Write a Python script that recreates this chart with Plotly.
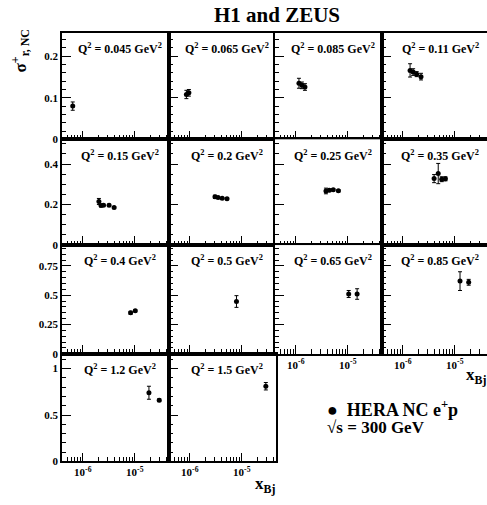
import plotly.graph_objects as go

W, H = 487, 505

q2_labels = ["0.045", "0.065", "0.085", "0.11",
             "0.15", "0.2", "0.25", "0.35",
             "0.4", "0.5", "0.65", "0.85",
             "1.2", "1.5"]

x_vals = [
    [6.4e-7],
    [8.6e-7, 9.6e-7],
    [1.15e-6, 1.31e-6, 1.5e-6],
    [1.38e-6, 1.58e-6, 1.85e-6, 2.24e-6],
    [2.04e-6, 2.24e-6, 2.5e-6, 3.2e-6, 4.0e-6],
    [3.05e-6, 3.5e-6, 4.2e-6, 5.2e-6],
    [3.8e-6, 4.4e-6, 5.25e-6, 6.6e-6],
    [4.0e-6, 4.8e-6, 5.6e-6, 6.6e-6],
    [8.3e-6, 1.02e-5],
    [7.9e-6],
    [1.04e-5, 1.51e-5],
    [1.26e-5, 1.85e-5],
    [1.87e-5, 2.95e-5],
    [2.9e-5],
]
sigma_vals = [
    [0.080],
    [0.108, 0.112],
    [0.135, 0.130, 0.126],
    [0.166, 0.162, 0.157, 0.151],
    [0.215, 0.195, 0.197, 0.197, 0.185],
    [0.238, 0.235, 0.231, 0.229],
    [0.267, 0.270, 0.273, 0.268],
    [0.328, 0.353, 0.325, 0.327],
    [0.350, 0.367],
    [0.446],
    [0.51, 0.51],
    [0.62, 0.61],
    [0.74, 0.66],
    [0.81],
]
sigma_err = [
    [0.010],
    [0.010, 0.008],
    [0.012, 0.008, 0.008],
    [0.016, 0.008, 0.006, 0.008],
    [0.015, 0.006, 0.005, 0.005, 0.005],
    [0.008, 0.005, 0.004, 0.004],
    [0.014, 0.006, 0.005, 0.005],
    [0.02, 0.05, 0.012, 0.01],
    [0.012, 0.008],
    [0.05],
    [0.03, 0.045],
    [0.08, 0.025],
    [0.07, 0.015],
    [0.04],
]

row_ymax = [0.257, 0.522, 0.928, 1.16]
row_dtick = [0.1, 0.2, 0.25, 0.5]
row_minor = [0.02, 0.05, 0.05, 0.1]
x_ticks = [1e-6, 1e-5]
x_ticktext = ["10<sup>-6</sup>", "10<sup>-5</sup>"]

# layout geometry (pixels)
col_left = [62, 169, 275, 382]
panel_w = 107
row_top = [33, 141, 248, 358]
row_bot = [141, 248, 358, 467]
decade_px = 52.0
xmin_log = -6.4

FONT = "Liberation Serif"
fig = go.Figure()
layout = {}
annotations = []

minor_vals = [m * 10 ** e for e in (-7, -6, -5) for m in range(2, 10)]

for i in range(14):
    r, c = divmod(i, 4)
    n = i + 1
    xa = "xaxis" if n == 1 else f"xaxis{n}"
    ya = "yaxis" if n == 1 else f"yaxis{n}"
    xref = "x" if n == 1 else f"x{n}"
    yref = "y" if n == 1 else f"y{n}"
    L = col_left[c]
    R = min(L + panel_w, W)
    xr = [xmin_log, xmin_log + (R - L) / decade_px]
    show_xlab = (r == 3) or (r == 2 and c >= 2)
    layout[xa] = dict(
        type="log", range=xr, domain=[L / W, R / W], anchor=yref,
        tickmode="array", tickvals=x_ticks, ticktext=x_ticktext,
        showticklabels=show_xlab, ticks="inside", ticklen=9, tickwidth=1,
        tickcolor="black",
        minor=dict(tickmode="array", tickvals=minor_vals, ticks="inside",
                   ticklen=4.5, tickwidth=1, tickcolor="black"),
        showgrid=False, zeroline=False, showline=True, mirror=True,
        linecolor="black", linewidth=1.5,
        tickfont=dict(family=FONT, size=11, color="black", weight="bold"),
    )
    layout[ya] = dict(
        range=[0, row_ymax[r]], domain=[1 - row_bot[r] / H, 1 - row_top[r] / H],
        anchor=xref, tickmode="linear", tick0=0, dtick=row_dtick[r],
        showticklabels=(c == 0), ticks="inside", ticklen=9, tickwidth=1,
        tickcolor="black",
        minor=dict(dtick=row_minor[r], tick0=0, ticks="inside", ticklen=4.5,
                   tickwidth=1, tickcolor="black"),
        showgrid=False, zeroline=False, showline=True, mirror=(c != 3),
        linecolor="black", linewidth=1.5,
        tickfont=dict(family=FONT, size=11, color="black", weight="bold"),
    )
    fig.add_trace(go.Scatter(
        x=x_vals[i], y=sigma_vals[i], mode="markers",
        marker=dict(color="black", size=5),
        error_y=dict(type="data", array=sigma_err[i], color="black",
                     thickness=1, width=2),
        xaxis=xref, yaxis=yref, showlegend=False,
    ))
    annotations.append(dict(
        text=f"Q<sup>2</sup> = {q2_labels[i]} GeV<sup>2</sup>",
        x=(L + 58) / W, y=1 - (row_top[r] + 16) / H, xref="paper", yref="paper",
        showarrow=False, xanchor="center", yanchor="middle",
        font=dict(family=FONT, size=12, color="black", weight="bold"),
    ))

annotations += [
    dict(text="H1 and ZEUS", x=277 / W, y=1 - 15 / H, xref="paper", yref="paper",
         showarrow=False, xanchor="center", yanchor="middle",
         font=dict(family=FONT, size=21, color="black", weight="bold")),
    dict(text="σ<sup>+</sup><sub>r, NC</sub>", x=20 / W, y=1 - 52 / H,
         xref="paper", yref="paper", showarrow=False, textangle=-90,
         xanchor="center", yanchor="middle",
         font=dict(family=FONT, size=17, color="black", weight="bold")),
    dict(text="x<sub>Bj</sub>", x=476 / W, y=1 - 381 / H, xref="paper", yref="paper",
         showarrow=False, xanchor="center", yanchor="middle",
         font=dict(family=FONT, size=17, color="black", weight="bold")),
    dict(text="x<sub>Bj</sub>", x=265 / W, y=1 - 491 / H, xref="paper", yref="paper",
         showarrow=False, xanchor="center", yanchor="middle",
         font=dict(family=FONT, size=17, color="black", weight="bold")),
    dict(text="●  HERA NC e<sup>+</sup>p", x=325 / W, y=1 - 413 / H,
         xref="paper", yref="paper", showarrow=False, xanchor="left",
         yanchor="middle",
         font=dict(family=FONT, size=18, color="black", weight="bold")),
    dict(text="√s = 300 GeV", x=325 / W, y=1 - 433 / H,
         xref="paper", yref="paper", showarrow=False, xanchor="left",
         yanchor="middle",
         font=dict(family=FONT, size=17, color="black", weight="bold")),
]

fig.update_layout(
    width=W, height=H, margin=dict(l=0, r=0, t=0, b=0),
    paper_bgcolor="white", plot_bgcolor="white",
    annotations=annotations, **layout,
)
fig.write_html("out.html")
